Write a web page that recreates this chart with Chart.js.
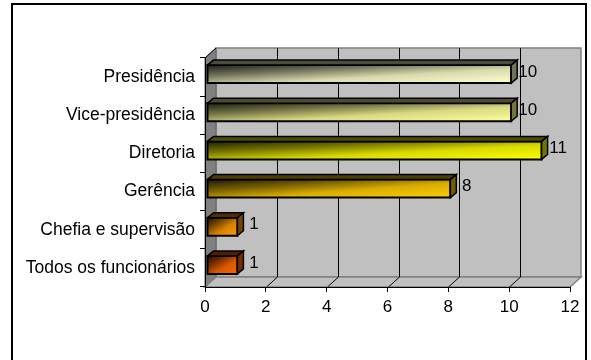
<!DOCTYPE html>
<html lang="pt">
<head>
  <meta charset="UTF-8" />
  <title>Distribuição por nível hierárquico</title>
  <script src="https://cdn.jsdelivr.net/npm/chart.js"></script>
  <style>
    html, body { margin: 0; padding: 0; background: #fff; }
    canvas { display: block; }
  </style>
</head>
<body>
  <canvas id="nivelChart" width="591" height="360"></canvas>

  <script>
    const categorias = [
      "Presidência",
      "Vice-presidência",
      "Diretoria",
      "Gerência",
      "Chefia e supervisão",
      "Todos os funcionários"
    ];
    const valores = [10, 10, 11, 8, 1, 1];
    const coresBarras = ["#FFFFCC", "#FFFF99", "#FFFF00", "#FFCC00", "#FF9900", "#FF6600"];

    const FONTE = { family: "'Liberation Sans', Arial, sans-serif", size: 17.5 };
    const FONTE_NUM = { family: "'Liberation Sans', Arial, sans-serif", size: 17 };
    const PROF = { dx: 11, dy: -10 };   // profundidade das paredes
    const BARRA = { dx: 6, dy: -5 };    // profundidade das barras

    function escurecer(hex, f) {
      const n = parseInt(hex.slice(1), 16);
      const r = Math.round(((n >> 16) & 255) * f);
      const g = Math.round(((n >> 8) & 255) * f);
      const b = Math.round((n & 255) * f);
      return `rgb(${r},${g},${b})`;
    }

    function poligono(ctx, pts, fill, stroke, lw) {
      ctx.beginPath();
      ctx.moveTo(pts[0][0], pts[0][1]);
      for (let i = 1; i < pts.length; i++) ctx.lineTo(pts[i][0], pts[i][1]);
      ctx.closePath();
      if (fill) { ctx.fillStyle = fill; ctx.fill(); }
      if (stroke) { ctx.strokeStyle = stroke; ctx.lineWidth = lw || 1; ctx.stroke(); }
    }

    // paredes e piso em 3D, atrás dos eixos
    const paredes3D = {
      id: "paredes3D",
      beforeDraw(chart) {
        const { ctx, chartArea: a, scales: { x } } = chart;
        const L = a.left, R = a.right, T = a.top, B = a.bottom;
        const dx = PROF.dx, dy = PROF.dy;
        ctx.save();
        ctx.fillStyle = "#fff";
        ctx.fillRect(0, 0, chart.width, chart.height);

        // parede do fundo
        poligono(ctx, [[L + dx, T + dy], [R + dx, T + dy], [R + dx, B + dy], [L + dx, B + dy]], "#C0C0C0", "#808080", 1.5);
        // parede lateral
        poligono(ctx, [[L, T], [L + dx, T + dy], [L + dx, B + dy], [L, B]], "#808080", "#606060", 1);
        // piso
        poligono(ctx, [[L, B], [L + dx, B + dy], [R + dx, B + dy], [R, B]], "#C0C0C0", "#808080", 1.5);

        // linhas de grade no fundo e no piso
        ctx.strokeStyle = "#000";
        ctx.lineWidth = 1;
        x.ticks.forEach(t => {
          if (t.value <= x.min || t.value >= x.max) return;
          const px = Math.round(x.getPixelForValue(t.value)) + 0.5;
          ctx.beginPath();
          ctx.moveTo(px + dx, T + dy);
          ctx.lineTo(px + dx, B + dy);
          ctx.moveTo(px + dx, B + dy);
          ctx.lineTo(px, B);
          ctx.stroke();
        });
        ctx.beginPath();
        ctx.moveTo(L, T);
        ctx.lineTo(L + dx, T + dy);
        ctx.stroke();
        ctx.restore();
      }
    };

    // barras em 3D com gradiente diagonal e rótulos de valor
    const barras3D = {
      id: "barras3D",
      afterDatasetsDraw(chart) {
        const { ctx } = chart;
        const meta = chart.getDatasetMeta(0);
        ctx.save();
        meta.data.forEach((el, i) => {
          const { x, y, base, height } = el.getProps(["x", "y", "base", "height"], true);
          const cor = coresBarras[i];
          const x0 = base + 2, x1 = x + 2;
          const y0 = y - 3 - height / 2, y1 = y0 + height;
          const w = x1 - x0, h = y1 - y0;

          // face frontal
          const k = 2 / (1 / (w * w) + 1 / (h * h));
          const g = ctx.createLinearGradient(x0, y0, x0 + k / w, y0 + k / h);
          g.addColorStop(0, escurecer(cor, 0.12));
          g.addColorStop(0.3, escurecer(cor, 0.45));
          g.addColorStop(0.6, escurecer(cor, 0.85));
          g.addColorStop(1, escurecer(cor, 1));
          poligono(ctx, [[x0, y0], [x1, y0], [x1, y1], [x0, y1]], g, "#000", 2);

          // face superior
          poligono(ctx, [[x0, y0], [x0 + BARRA.dx, y0 + BARRA.dy], [x1 + BARRA.dx, y0 + BARRA.dy], [x1, y0]],
            escurecer(cor, 0.3), "#000", 1.5);
          // face lateral
          poligono(ctx, [[x1, y0], [x1 + BARRA.dx, y0 + BARRA.dy], [x1 + BARRA.dx, y1 + BARRA.dy], [x1, y1]],
            escurecer(cor, 0.45), "#000", 1.5);

          // valor, centrado um pouco à direita da barra
          ctx.fillStyle = "#000";
          ctx.font = `${FONTE_NUM.size}px ${FONTE_NUM.family}`;
          ctx.textAlign = "center";
          ctx.textBaseline = "middle";
          ctx.fillText(String(valores[i]), x + 18.5, y0 + h / 2 - 2);
        });
        ctx.restore();
      },
      afterDraw(chart) {
        const { ctx } = chart;
        ctx.save();
        ctx.strokeStyle = "#000";
        ctx.lineWidth = 2;
        ctx.strokeRect(12, 4, 574, 400);
        ctx.restore();
      }
    };

    new Chart(document.getElementById("nivelChart"), {
      type: "bar",
      data: {
        labels: categorias,
        datasets: [{
          label: "Respostas",
          data: valores,
          backgroundColor: "transparent",
          borderWidth: 0,
          categoryPercentage: 1,
          barPercentage: 0.47
        }]
      },
      options: {
        indexAxis: "y",
        responsive: false,
        animation: false,
        devicePixelRatio: 1,
        layout: { padding: { top: 58, right: 21, left: 0, bottom: 0 } },
        plugins: {
          legend: { display: false },
          tooltip: { enabled: false }
        },
        scales: {
          x: {
            min: 0,
            max: 12,
            ticks: { stepSize: 2, color: "#000", font: FONTE_NUM, padding: 5, maxRotation: 0 },
            grid: { drawOnChartArea: false, tickLength: 5, color: "#000" },
            border: { color: "#000", width: 1 },
            afterFit(s) { s.height = 73; }
          },
          y: {
            ticks: { color: "#000", font: FONTE, padding: 5 },
            grid: { drawOnChartArea: false, offset: true, tickLength: 5, color: "#000" },
            border: { color: "#000", width: 1 },
            afterFit(s) { s.width = 205; }
          }
        }
      },
      plugins: [paredes3D, barras3D]
    });
  </script>
</body>
</html>
